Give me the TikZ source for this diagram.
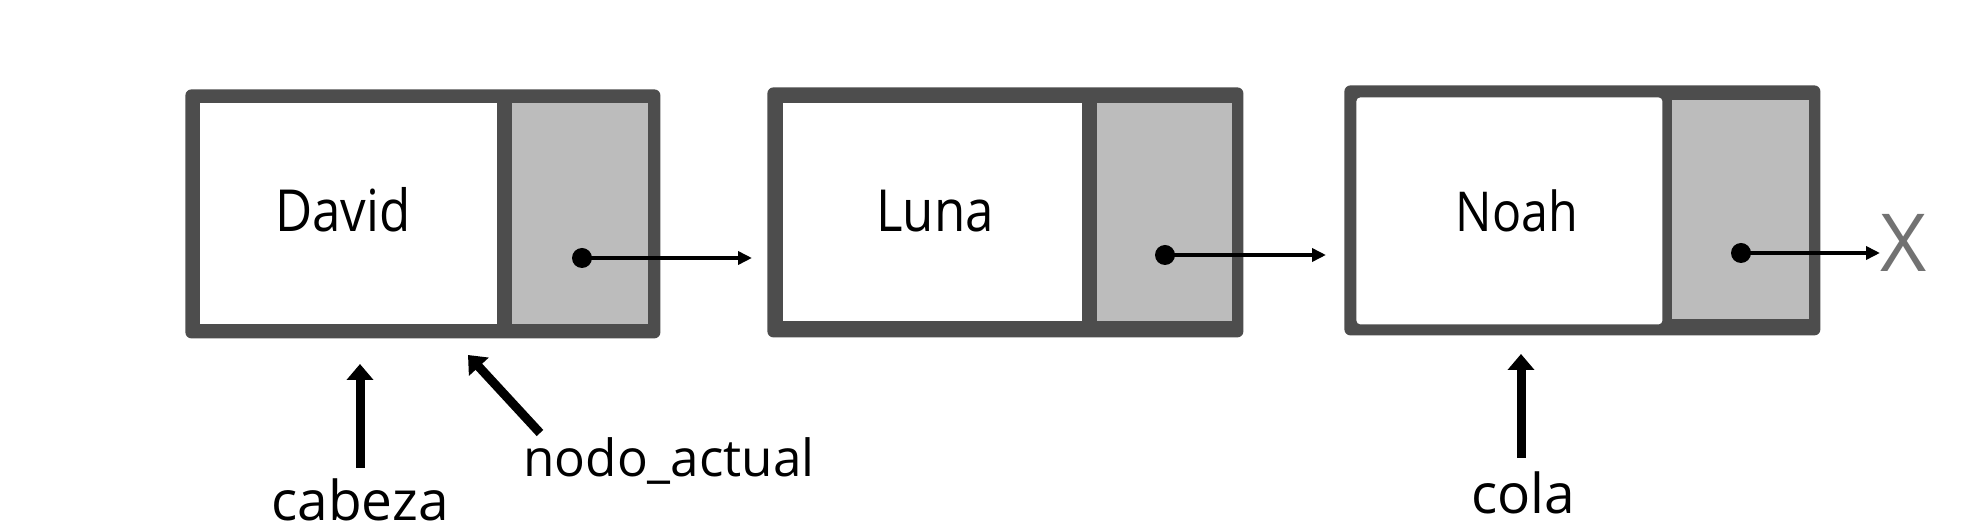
\documentclass[tikz,border=0pt]{standalone}
\usepackage{fontspec}
\setmainfont{Open Sans}
\newfontfamily\nfont[FakeStretch=0.88]{Open Sans}
\newfontfamily\lfont{Open Sans}
\usetikzlibrary{arrows.meta}
\definecolor{bordergray}{HTML}{4D4D4D}
\definecolor{cellgray}{HTML}{BCBCBC}
\definecolor{xgray}{HTML}{727272}
\begin{document}
\begin{tikzpicture}[x=0.5pt,y=-0.5pt,
  outerbox/.style={fill=bordergray, rounded corners=3pt, inner sep=0pt, anchor=north west},
  datacell/.style={fill=white, inner sep=0pt, anchor=north west},
  ptrcell/.style={fill=cellgray, inner sep=0pt, anchor=north west},
  valtext/.style={font=\nfont\fontsize{29pt}{34pt}\selectfont, anchor=base, inner sep=0pt},
  lbltext/.style={font=\lfont\fontsize{27.5pt}{32pt}\selectfont, anchor=base, inner sep=0pt},
  dotnode/.style={circle, fill=black, minimum size=10pt, inner sep=0pt},
  ptrarrow/.style={line width=2pt, -{Triangle[length=7pt,width=6.5pt]}},
  bigarrow/.style={line width=4.5pt, -{Triangle[length=8pt,width=13pt]}}
]
\fill[white] (0,0) rectangle (1988,528);
\useasboundingbox (0,0) rectangle (1988,528);

% Box 1
\node[outerbox, minimum width=237.5pt, minimum height=124.5pt] (box1) at (185,89) {};
\node[datacell, minimum width=148.5pt, minimum height=110.5pt] (d1) at (200,103) {};
\node[ptrcell, minimum width=68pt, minimum height=110.5pt] (p1) at (512,103) {};
\node[valtext] (t1) at (343,232) {David};

% Box 2
\node[outerbox, minimum width=238pt, minimum height=125pt] (box2) at (767,87) {};
\node[datacell, minimum width=149.5pt, minimum height=109pt] (d2) at (783,103) {};
\node[ptrcell, minimum width=67.5pt, minimum height=109pt] (p2) at (1097,103) {};
\node[valtext] (t2) at (935,232) {Luna};

% Box 3
\node[outerbox, minimum width=238pt, minimum height=125pt] (box3) at (1344,85) {};
\node[datacell, rounded corners=2pt, minimum width=153pt, minimum height=113.5pt] (d3) at (1356,97) {};
\node[ptrcell, minimum width=68.5pt, minimum height=109.5pt] (p3) at (1672,100) {};
\node[valtext, font=\nfont\fontsize{27.5pt}{32pt}\selectfont] (t3) at (1517,232) {Noah};

% pointers
\node[dotnode] (dot1) at (582,258) {};
\node[dotnode] (dot2) at (1165,255) {};
\node[dotnode] (dot3) at (1741,253) {};
\coordinate (e1) at (752,258);
\coordinate (e2) at (1326,255);
\coordinate (e3) at (1880,253);
\draw[ptrarrow] (dot1.center) -- (e1);
\draw[ptrarrow] (dot2.center) -- (e2);
\draw[ptrarrow] (dot3.center) -- (e3);
\node[font=\lfont\fontsize{40pt}{46pt}\selectfont, text=xgray, anchor=base, inner sep=0pt] (nullx) at (1904,272) {X};

% labels
\node[lbltext] (cab) at (360,521) {cabeza};
\node[lbltext, font=\lfont\fontsize{25.6pt}{30pt}\selectfont] (nodo) at (669,477) {nodo\_actual};
\node[lbltext] (cola) at (1523,514) {cola};
\coordinate (cabS) at (360,468);
\coordinate (cabT) at (360,364);
\coordinate (nodoS) at (540,433);
\coordinate (nodoT) at (468,355);
\coordinate (colaS) at (1521,458);
\coordinate (colaT) at (1521,354);
\draw[bigarrow] (cabS) -- (cabT);
\draw[bigarrow] (nodoS) -- (nodoT);
\draw[bigarrow] (colaS) -- (colaT);
\end{tikzpicture}
\end{document}
